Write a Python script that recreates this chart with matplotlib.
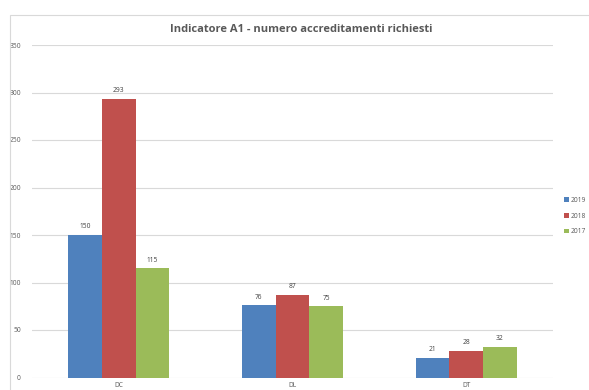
import matplotlib
matplotlib.use("Agg")
import matplotlib.pyplot as plt
import numpy as np
from matplotlib.patches import Rectangle, Patch

categories = ["DC", "DL", "DT"]
series_names = ["2019", "2018", "2017"]
values_2019 = [150, 76, 21]
values_2018 = [293, 87, 28]
values_2017 = [115, 75, 32]
y_ticks = [0, 50, 100, 150, 200, 250, 300, 350]

colors = ["#4F81BD", "#C0504D", "#9BBB59"]
text_grey = "#595959"

plt.rcParams["font.family"] = ["Open Sans", "DejaVu Sans"]

W, H = 589, 390
fig = plt.figure(figsize=(W / 100, H / 100), dpi=100)

# chart frame
fig.patches.append(Rectangle((9.5 / W, -0.1), 1.2, (H - 14.5) / H + 0.1,
                             transform=fig.transFigure, fill=False,
                             edgecolor="#D9D9D9", linewidth=0.8))

ax = fig.add_axes([32 / W, (H - 377.5) / H, (553 - 32) / W, (377.5 - 45) / H])
ax.set_ylim(0, 350)
ax.set_xlim(-0.5, 2.5)

x = np.arange(len(categories))
bw = 0.194
all_series = [values_2019, values_2018, values_2017]
for i, (vals, col, name) in enumerate(zip(all_series, colors, series_names)):
    bars = ax.bar(x + (i - 1) * bw, vals, width=bw, color=col, label=name,
                  zorder=3, linewidth=0)
    for b, v in zip(bars, vals):
        ax.text(b.get_x() + b.get_width() / 2, v + 5, str(v), ha="center",
                va="bottom", fontsize=4.8, color="#404040", zorder=4)

ax.set_yticks(y_ticks)
ax.set_yticklabels([str(t) for t in y_ticks], fontsize=4.8, color=text_grey)
ax.set_xticks(x)
ax.set_xticklabels(categories, fontsize=4.8, color=text_grey)
ax.tick_params(axis="both", length=0, pad=8)
ax.tick_params(axis="x", pad=3.5)
ax.grid(axis="y", color="#D9D9D9", linewidth=0.8, zorder=0)
for s in ax.spines.values():
    s.set_visible(False)

fig.text(301 / W, 1 - 30 / H, "Indicatore A1 - numero accreditamenti richiesti",
         ha="center", va="center", fontsize=8, fontweight="bold",
         color=text_grey)

handles = [Patch(facecolor=c, edgecolor="none") for c in colors]
fig.legend(handles, series_names, loc="center left",
           bbox_to_anchor=(558 / W, 1 - 216 / H), frameon=False,
           fontsize=4.8, handlelength=0.7, handleheight=0.7,
           handletextpad=0.3, labelspacing=1.3, labelcolor=text_grey)

fig.savefig("out.png", dpi=100)
